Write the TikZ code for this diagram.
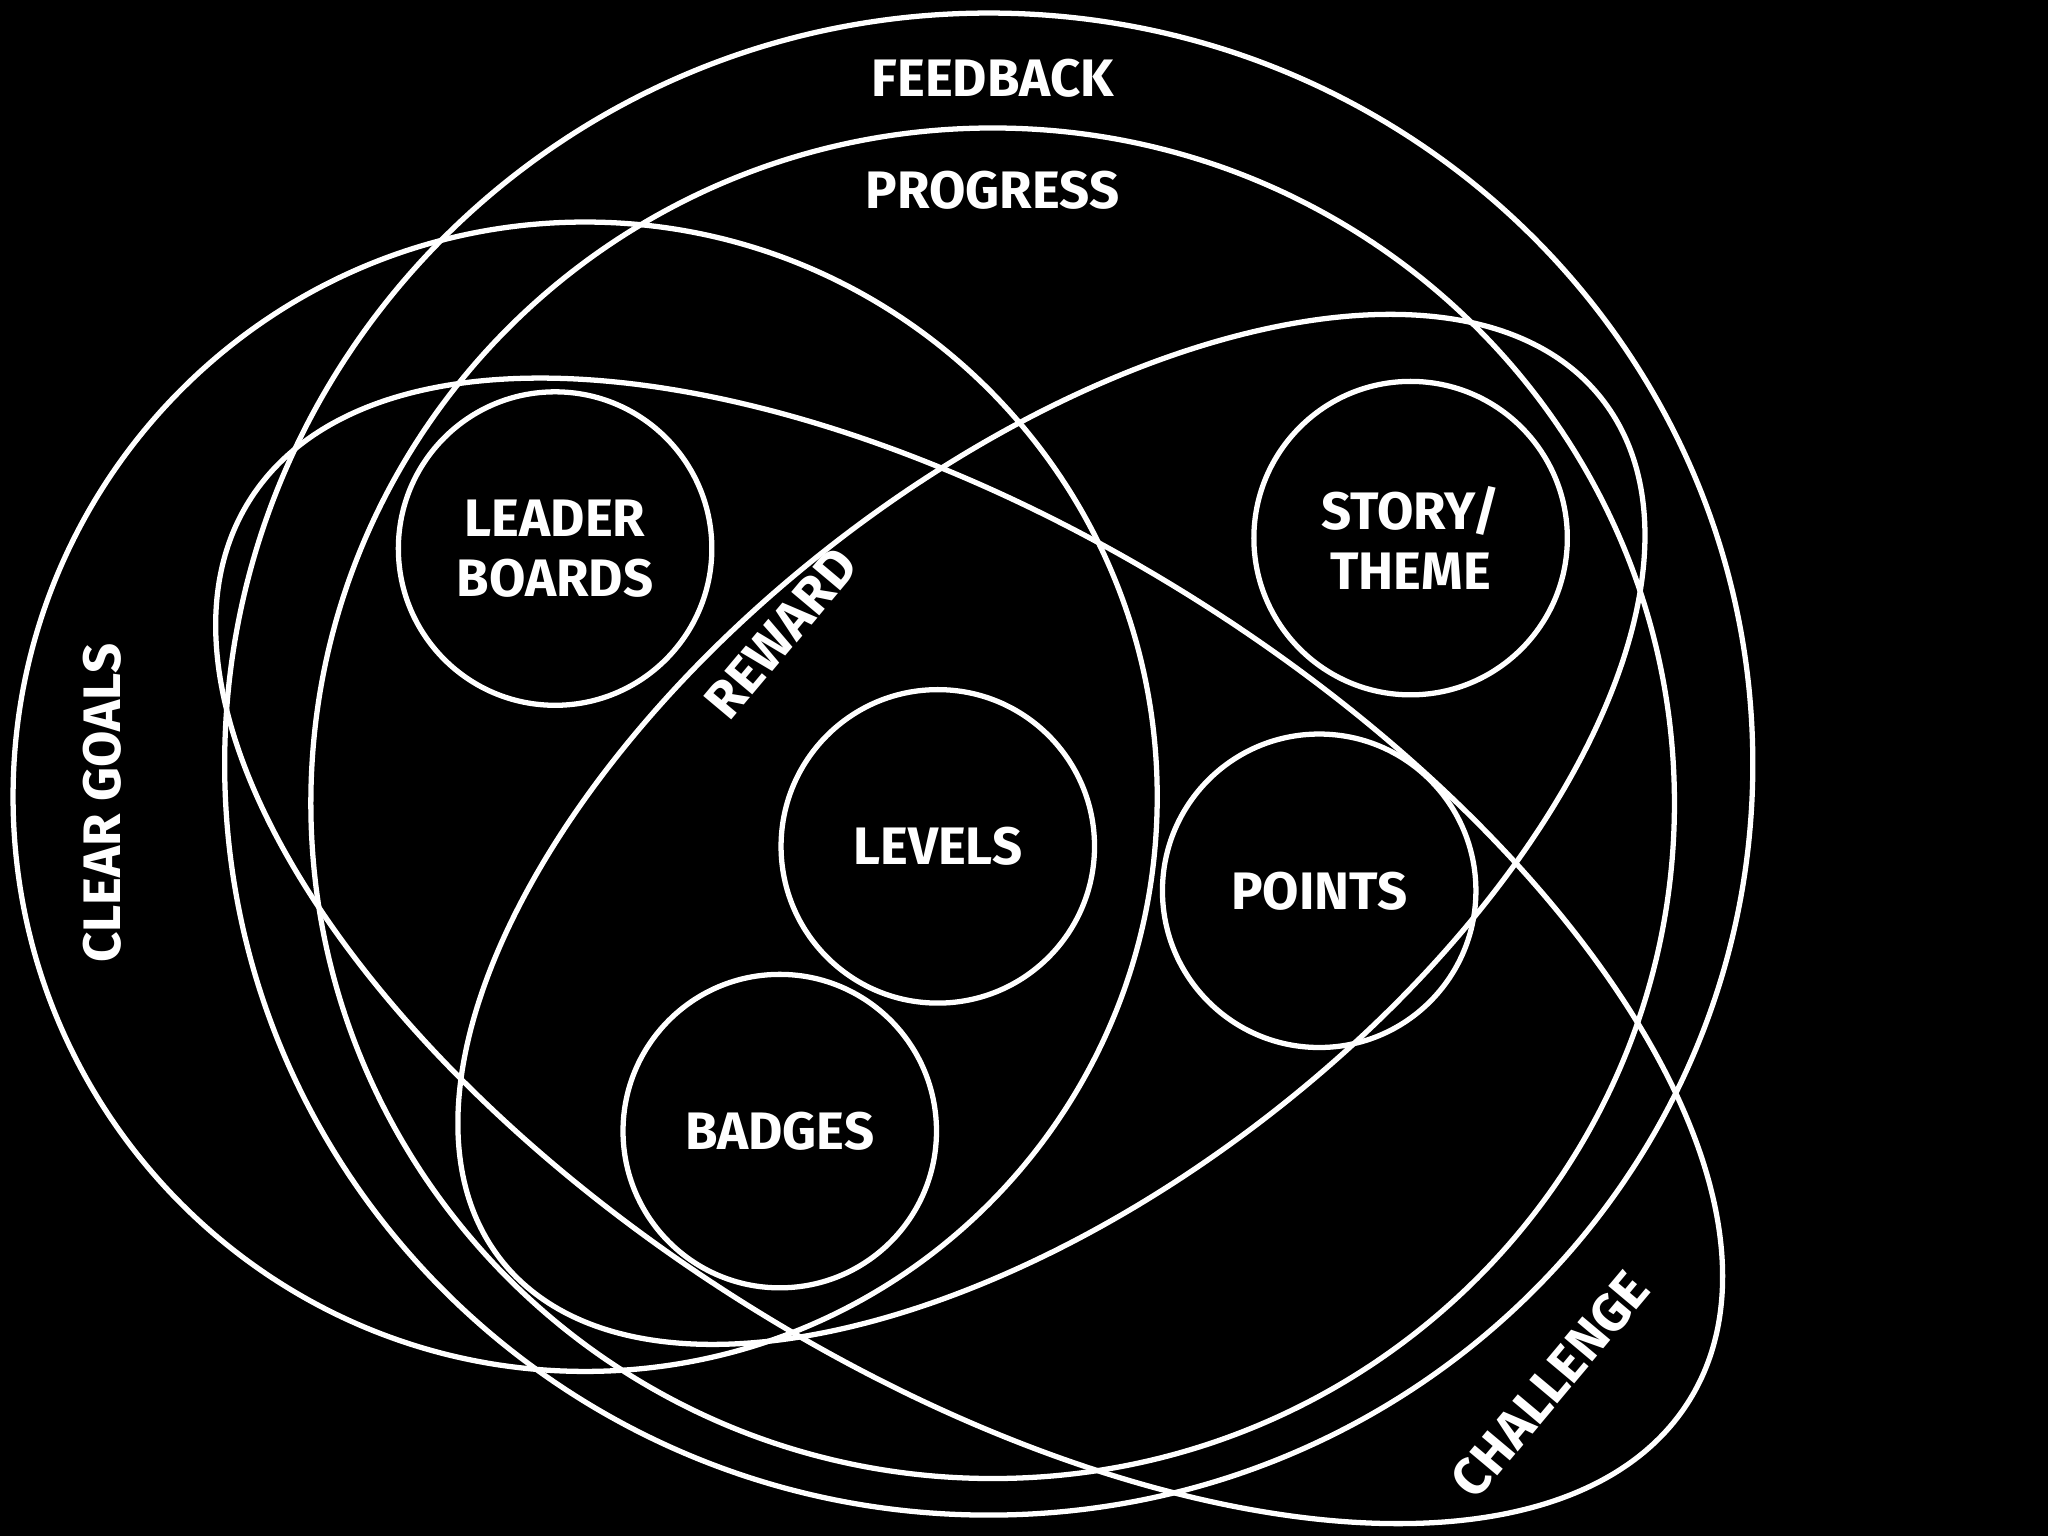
\documentclass[tikz,border=0pt]{standalone}
\usepackage{fontspec}
\setmainfont{Fira Sans}
\begin{document}
\begin{tikzpicture}[x=0.013061cm,y=-0.013061cm,
  shp/.style={draw=white,line width=1.5pt},
  lbl/.style={text=white,font=\fontsize{15}{17}\selectfont\bfseries,align=center}]
\fill[black] (0,0) rectangle (1568,1176);
\useasboundingbox (0,0) rectangle (1568,1176);
% big ellipses
\draw[shp] (757,585) ellipse (585 and 575);
\draw[shp] (760,615) ellipse (522 and 517);
\draw[shp] (448,610) ellipse (438 and 440);
\draw[shp,rotate around={38:(805,635)}] (805,635) ellipse (535 and 275);
\draw[shp,rotate around={-32:(742,728)}] (742,728) ellipse (650 and 320);
% circles
\node[shp,circle,minimum size=240*0.013061cm,lbl] (lb) at (425,420) {LEADER\\BOARDS};
\node[shp,circle,minimum size=240*0.013061cm,lbl] (st) at (1080,412) {STORY/\\THEME};
\node[shp,circle,minimum size=240*0.013061cm,lbl] (lv) at (718,648) {LEVELS};
\node[shp,circle,minimum size=240*0.013061cm,lbl] (pt) at (1010,682) {POINTS};
\node[shp,circle,minimum size=240*0.013061cm,lbl] (bd) at (597,866) {BADGES};
% labels
\node[lbl] (fb) at (760,60) {FEEDBACK};
\node[lbl] (pg) at (760,146) {PROGRESS};
\node[lbl,rotate=90] (cg) at (78,615) {CLEAR GOALS};
\node[lbl,rotate=50] (rw) at (598,485) {REWARD};
\node[lbl,rotate=50] (ch) at (1187,1060) {CHALLENGE};
\end{tikzpicture}
\end{document}
